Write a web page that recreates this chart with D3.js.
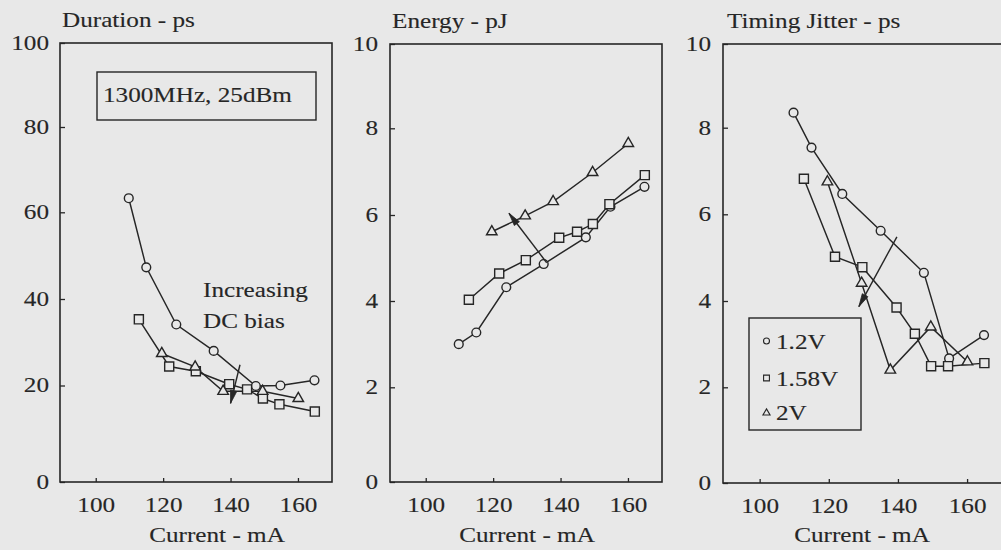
<!DOCTYPE html>
<html>
<head>
<meta charset="utf-8">
<script src="https://cdn.jsdelivr.net/npm/d3@7"></script>
<style>
html, body { margin: 0; padding: 0; background: #e8e8e8; }
svg { display: block; }
</style>
</head>
<body>
<svg id="chart" width="1001" height="550"></svg>
<script>
// ---------------- DATA ----------------
const seriesNames = ["1.2V", "1.58V", "2V"];
const xTickValues = [100, 120, 140, 160];
const durationTicks = [0, 20, 40, 60, 80, 100];
const energyTicks = [0, 2, 4, 6, 8, 10];
const jitterTicks = [0, 2, 4, 6, 8, 10];

// bias currents (mA) for each series
const current1_2V  = [109.8, 115, 123.9, 135, 147.5, 154.8, 164.9];
const current1_58V = [112.8, 121.8, 129.7, 139.6, 144.9, 149.6, 154.5, 165];
const current2V    = [119.6, 129.5, 137.8, 149.5, 160.1];

// Duration - ps
const duration1_2V  = [63.3, 47.3, 34.1, 28.0, 19.9, 20.0, 21.2];
const duration1_58V = [35.3, 24.4, 23.3, 20.3, 19.2, 17.3, 16.1, 14.6];
const duration2V    = [27.4, 24.3, 18.8, 18.8, 17.3];

// Energy - pJ
const energy1_2V  = [3.0, 3.27, 4.32, 4.86, 5.48, 6.19, 6.65];
const energy1_58V = [4.03, 4.64, 4.95, 5.47, 5.61, 5.79, 6.25, 6.92];
const energy2V    = [5.61, 5.98, 6.31, 6.98, 7.65];

// Timing Jitter - ps
const jitter1_2V  = [8.36, 7.54, 6.47, 5.62, 4.65, 2.67, 3.21];
const jitter1_58V = [6.82, 5.02, 4.78, 3.85, 3.24, 2.49, 2.49, 2.56];
const jitter2V    = [6.75, 4.41, 2.40, 3.40, 2.59];

// "Increasing DC bias" arrows: [fromX, fromY, toX, toY] in data units
const durationArrow = [142.8, 24.8, 140.0, 16.3];
const energyArrow   = [135.9, 4.89, 124.7, 6.04];
const jitterArrow   = [139.7, 5.48, 128.7, 3.87];

const titles = ["Duration - ps", "Energy - pJ", "Timing Jitter - ps"];
const xTitle = "Current - mA";
const conditionText = "1300MHz, 25dBm";
const annotationLines = ["Increasing", "DC bias"];

// ---------------- STYLE / LAYOUT ----------------
const BG = "#e8e8e8";
const INK = "#262626";
const FONT = "'Liberation Serif', 'Times New Roman', Times, serif";
const FS = 20;
const SX = 1.26; // horizontal stretch of the scanned lettering
const xDomain = [89.4, 170.1];
const panels = [
  { title: titles[0], ticks: durationTicks, left: 60, right: 332, top: 43, bottom: 482,
    yRange: [482, 385.5, 299, 212.3, 127, 43], labelRight: 49, titleX: 62, titleY: 27,
    xTitleX: 217, vals: [duration1_2V, duration1_58V, duration2V], arrow: durationArrow },
  { title: titles[1], ticks: energyTicks, left: 390, right: 662, top: 44, bottom: 482,
    yRange: [482, 387.3, 301, 215, 128.3, 44], labelRight: 378, titleX: 392, titleY: 28,
    xTitleX: 527, vals: [energy1_2V, energy1_58V, energy2V], arrow: energyArrow },
  { title: titles[2], ticks: jitterTicks, left: 723, right: 1003, top: 44, bottom: 483,
    yRange: [483, 387.3, 301, 214.3, 127.7, 44], labelRight: 711, titleX: 727, titleY: 28,
    xTitleX: 862, vals: [jitter1_2V, jitter1_58V, jitter2V], arrow: jitterArrow, xRangeRight: 1002 }
];
const currents = [current1_2V, current1_58V, current2V];
const symbolTypes = [d3.symbolCircle, d3.symbolSquare, d3.symbolTriangle];
const symbolSizes = [Math.PI * 4.4 * 4.4, 82, 48];
const legendSizes = [Math.PI * 3 * 3, 34, 22];

const svg = d3.select("#chart");
svg.append("rect").attr("width", 1001).attr("height", 550).attr("fill", BG);

function styleText(sel) {
  return sel.attr("font-family", FONT).attr("font-size", FS)
    .attr("fill", INK).attr("stroke", INK).attr("stroke-width", 0.12);
}

function addText(g, x, y, str, anchor) {
  return styleText(g.append("text")
    .attr("transform", `translate(${x},${y}) scale(${SX},1)`)
    .attr("text-anchor", anchor || "start"))
    .text(str);
}

function arrowHead(g, x1, y1, x2, y2) {
  const ang = Math.atan2(y2 - y1, x2 - x1);
  const L = 13, W = 3.2;
  const bx = x2 - L * Math.cos(ang), by = y2 - L * Math.sin(ang);
  const px = -Math.sin(ang) * W, py = Math.cos(ang) * W;
  g.append("path")
    .attr("d", `M${x2},${y2}L${bx + px},${by + py}L${bx - px},${by - py}Z`)
    .attr("fill", INK).attr("stroke", INK).attr("stroke-width", 0.8);
}

panels.forEach((p, pi) => {
  const g = svg.append("g");
  const x = d3.scaleLinear().domain(xDomain).range([p.left, p.xRangeRight || p.right]);
  const y = d3.scaleLinear().domain(p.ticks).range(p.yRange);

  // axes
  const ax = g.append("g").attr("transform", `translate(${p.left},0)`)
    .call(d3.axisLeft(y).tickValues(p.ticks).tickSize(-5).tickSizeOuter(0).tickFormat(d3.format("d")));
  ax.select(".domain").remove();
  ax.selectAll("line").attr("stroke", INK).attr("stroke-width", 1.3);
  styleText(ax.selectAll("text"))
    .attr("x", -(p.left - p.labelRight) / SX)
    .attr("transform", `scale(${SX},1)`);

  const bx = g.append("g").attr("transform", `translate(0,${p.bottom})`)
    .call(d3.axisBottom(x).tickValues(xTickValues).tickSize(-4).tickSizeOuter(0).tickFormat(d3.format("d")));
  bx.select(".domain").remove();
  bx.selectAll("line").attr("stroke", INK).attr("stroke-width", 1.3);
  styleText(bx.selectAll("text")).attr("y", 16).attr("x", 0)
    .attr("transform", `scale(${SX},1)`);

  // frame
  g.append("rect")
    .attr("x", p.left).attr("y", p.top)
    .attr("width", p.right - p.left).attr("height", p.bottom - p.top)
    .attr("fill", "none").attr("stroke", INK).attr("stroke-width", 1.6);

  // titles
  addText(g, p.titleX, p.titleY, p.title, "start");
  addText(g, p.xTitleX, 542, xTitle, "middle");

  // series
  const line = d3.line().x(d => x(d[0])).y(d => y(d[1]));
  p.vals.forEach((vals, si) => {
    const pts = vals.map((v, i) => [currents[si][i], v]);
    g.append("path").datum(pts).attr("d", line)
      .attr("fill", "none").attr("stroke", INK).attr("stroke-width", 1.45);
  });
  p.vals.forEach((vals, si) => {
    const pts = vals.map((v, i) => [currents[si][i], v]);
    g.selectAll(null).data(pts).enter().append("path")
      .attr("transform", d => `translate(${x(d[0])},${y(d[1])})`)
      .attr("d", d3.symbol().type(symbolTypes[si]).size(symbolSizes[si]))
      .attr("fill", BG).attr("stroke", INK).attr("stroke-width", 1.4);
  });

  // arrow
  const a = p.arrow;
  const x1 = x(a[0]), y1 = y(a[1]), x2 = x(a[2]), y2 = y(a[3]);
  g.append("line").attr("x1", x1).attr("y1", y1).attr("x2", x2).attr("y2", y2)
    .attr("stroke", INK).attr("stroke-width", 1.4);
  arrowHead(g, x1, y1, x2, y2);

  if (pi === 0) {
    g.append("rect").attr("x", 97).attr("y", 72).attr("width", 219).attr("height", 48)
      .attr("fill", "none").attr("stroke", INK).attr("stroke-width", 1.4);
    addText(g, 103, 102, conditionText, "start");
    addText(g, 203, 297, annotationLines[0], "start");
    addText(g, 203, 328, annotationLines[1], "start");
  }
  if (pi === 2) {
    g.append("rect").attr("x", 749).attr("y", 318).attr("width", 112).attr("height", 112)
      .attr("fill", "none").attr("stroke", INK).attr("stroke-width", 1.4);
    const rowsY = [349, 386, 420];
    const symY = [341, 378, 413];
    seriesNames.forEach((name, si) => {
      g.append("path")
        .attr("transform", `translate(766.5,${symY[si]})`)
        .attr("d", d3.symbol().type(symbolTypes[si]).size(legendSizes[si]))
        .attr("fill", BG).attr("stroke", INK).attr("stroke-width", 1.1);
      addText(g, 776, rowsY[si], name, "start");
    });
  }
});
</script>
</body>
</html>
